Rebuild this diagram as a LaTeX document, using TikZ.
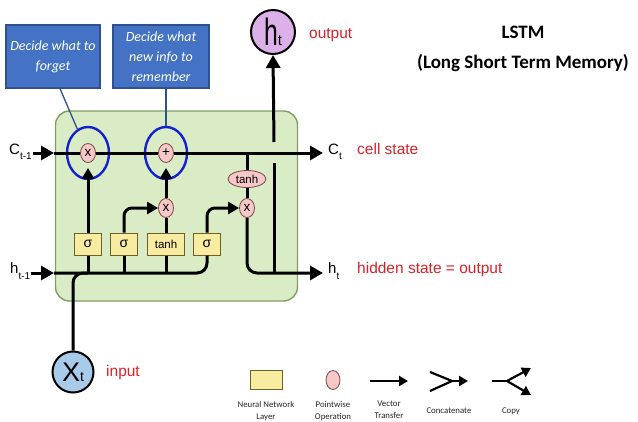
\documentclass[tikz,border=0pt]{standalone}
\usepackage{fontspec}
\usepackage{graphicx}
\setmainfont{Liberation Sans}
\newfontfamily\calib{Carlito}
\usetikzlibrary{shapes.geometric,arrows.meta}
\definecolor{cellgreen}{RGB}{218,236,198}
\definecolor{cellborder}{RGB}{128,158,98}
\definecolor{pinkop}{RGB}{246,200,200}
\definecolor{pinkborder}{RGB}{120,70,70}
\definecolor{yellowbox}{RGB}{248,236,160}
\definecolor{yellowborder}{RGB}{110,96,40}
\definecolor{callblue}{RGB}{68,114,196}
\definecolor{callborder}{RGB}{47,82,143}
\definecolor{ringblue}{RGB}{20,30,210}
\definecolor{redtxt}{RGB}{220,32,40}
\definecolor{htfill}{RGB}{220,176,232}
\definecolor{xtfill}{RGB}{168,203,234}
\tikzset{
 flow/.style={line width=3pt, black},
 bigarr/.style={flow, -{Triangle[length=13pt,width=14pt]}},
 midarr/.style={flow, -{Triangle[length=11pt,width=12pt]}},
 legflow/.style={line width=2.2pt, black},
 legarr/.style={legflow, -{Triangle[length=9pt,width=10pt]}},
 layer/.style={draw=yellowborder, fill=yellowbox, line width=1pt, minimum height=22pt, minimum width=27pt, inner sep=1pt, font=\fontsize{14}{14}\selectfont},
 pw/.style={draw=pinkborder, fill=pinkop, line width=0.8pt, ellipse, minimum width=15pt, minimum height=19pt, inner sep=0pt, font=\fontsize{13.5}{13.5}\selectfont},
 ring/.style={draw=ringblue, line width=2.4pt, ellipse, minimum width=42pt, minimum height=52pt},
 callout/.style={draw=callborder, fill=callblue, line width=1.2pt, text=white, font=\calib\itshape\fontsize{14}{20}\selectfont, align=center, minimum height=63pt, inner sep=2pt},
 callline/.style={draw=callborder, line width=1.3pt},
 redlbl/.style={text=redtxt, font=\fontsize{15.5}{17}\selectfont, anchor=west, inner sep=0pt},
 statelbl/.style={font=\fontsize{15}{15}\selectfont, anchor=west, inner sep=0pt},
 leglbl/.style={font=\calib\fontsize{8.8}{12}\selectfont, align=center, text=black!85},
 bigcirc/.style={draw=black, line width=2pt, circle, inner sep=0pt},
}
\begin{document}
\begin{tikzpicture}[x=1pt,y=-1pt]
\useasboundingbox (0,0) rectangle (638,421);
% cell
\node[draw=cellborder, fill=cellgreen, line width=1.4pt, rounded corners=14pt, minimum width=242pt, minimum height=190pt] (cell) at (176.5,206) {};
% titles
\node[font=\calib\bfseries\fontsize{19}{22}\selectfont] (title1) at (523,32) {LSTM};
\node[font=\calib\bfseries\fontsize{19}{22}\selectfont] (title2) at (523,63) {(Long Short Term Memory)};
% callouts
\node[callout, minimum width=94pt] (call1) at (53,56.5) {Decide what to\\forget};
\node[callout, minimum width=96pt] (call2) at (161,56.5) {Decide what\\new info to\\remember};
% pointwise ops
\node[pw] (fx) at (88,153) {x};
\node[pw] (px) at (166,153) {+};
\node[pw] (mx) at (166,208) {x};
\node[pw] (ox) at (247,208) {x};
\node[pw, minimum width=38pt, minimum height=17pt, font=\fontsize{11.5}{11.5}\selectfont] (th) at (247,179) {tanh};
% layers
\node[layer] (s1) at (88,244) {σ};
\node[layer] (s2) at (124,244) {σ};
\node[layer, minimum width=37pt, font=\fontsize{11.5}{11.5}\selectfont] (tb) at (166,244) {tanh};
\node[layer] (s3) at (207,244) {σ};
% rings
\node[ring] (fring) at (88,153) {};
\node[ring] (pring) at (166,153) {};
% input/output circles
\node[bigcirc, fill=htfill, minimum size=44pt] (htop) at (273,32) {\fontsize{38}{38}\selectfont\scalebox{0.65}[1]{h}\fontsize{15}{15}\selectfont t};
\node[bigcirc, fill=xtfill, minimum size=41pt] (xt) at (73,372) {\fontsize{27}{27}\selectfont X\fontsize{14}{14}\selectfont t};
% labels
\node[statelbl] (ctm1) at (9,152) {C\raisebox{-0.7ex}{\fontsize{10}{10}\selectfont t-1}};
\node[statelbl] (htm1) at (10,271) {h\raisebox{-0.7ex}{\fontsize{10}{10}\selectfont t-1}};
\node[statelbl] (ctl) at (328,152) {C\raisebox{-0.7ex}{\fontsize{10}{10}\selectfont t}};
\node[statelbl] (htl) at (328,271) {h\raisebox{-0.7ex}{\fontsize{10}{10}\selectfont t}};
\node[redlbl] (outl) at (309,35) {output};
\node[redlbl] (cslbl) at (357,149) {cell state};
\node[redlbl] (hslbl) at (357,269) {hidden state = output};
\node[redlbl] (inl) at (106,372) {input};
% coordinates
\coordinate (cinT) at (54,153);
\coordinate (cout) at (323,153);
\coordinate (hinT) at (54,273);
\coordinate (hout) at (323,273);
\coordinate (tap) at (247,153);
\coordinate (xj) at (88,273);
\coordinate (hv1) at (274,273);
\coordinate (hv2) at (274,163);
\coordinate (hv3) at (274,142);
% cell state line
\draw[bigarr] ([xshift=1pt]ctm1.east |- cinT) -- (cinT);
\draw[flow] (cinT) -- (fx);
\draw[flow] (fx) -- (px);
\draw[bigarr] (px) -- (cout);
% hidden line
\draw[bigarr] ([xshift=1pt]htm1.east |- hinT) -- (hinT);
\draw[flow, rounded corners=10pt] (hinT) -| (s3.south);
\draw[flow] (s1.south) -- (s1.south |- hinT);
\draw[flow] (s2.south) -- (s2.south |- hinT);
\draw[flow] (tb.south) -- (tb.south |- hinT);
\draw[flow, rounded corners=10pt] (xt.north) |- (xj);
% gates
\draw[midarr, shorten >=5pt] (s1.north) -- (fx.south);
\draw[midarr, rounded corners=8pt] (s2.north) |- (mx.west);
\draw[flow] (tb.north) -- (mx.south);
\draw[midarr, shorten >=5pt] (mx.north) -- (px.south);
\draw[midarr, rounded corners=8pt] (s3.north) |- (ox.west);
\draw[flow] (tap) -- (th.north);
\draw[flow] (th.south) -- (ox.north);
\draw[bigarr, rounded corners=10pt] (ox.south) |- (hout);
\draw[flow] (hv1) -- (hv2);
\draw[bigarr] (hv3) -- (htop.south);
% callout lines
\draw[callline] ([xshift=7pt]call1.south) -- (fring.114);
\draw[callline] (pring.north |- call2.south) -- (pring.north);
% legend
\node[layer, minimum width=32pt, minimum height=19pt] (lg1) at (266,380) {};
\node[leglbl] (lg1t) at (266,411) {Neural Network\\Layer};
\node[pw, minimum width=14pt, minimum height=19pt] (lg2) at (333,380) {};
\node[leglbl] (lg2t) at (333,411) {Pointwise\\Operation};
\coordinate (v1) at (370,381);
\coordinate (v2) at (408,381);
\draw[legarr] (v1) -- (v2);
\node[leglbl] (lg3t) at (389,410) {Vector\\Transfer};
\coordinate (ca) at (430,372);
\coordinate (cb) at (430,391);
\coordinate (cm) at (452,381);
\coordinate (ce) at (468,381);
\draw[legflow] (ca) -- (cm);
\draw[legflow] (cb) -- (cm);
\draw[legarr] (cm) -- (ce);
\node[leglbl] (lg4t) at (449,411) {Concatenate};
\coordinate (pa) at (492,381);
\coordinate (pm) at (507,381);
\coordinate (pu) at (531,368);
\coordinate (pd) at (531,395);
\draw[legflow] (pa) -- (pm);
\draw[legarr] (pm) -- (pu);
\draw[legarr] (pm) -- (pd);
\node[leglbl] (lg5t) at (511,411) {Copy};
\end{tikzpicture}
\end{document}
